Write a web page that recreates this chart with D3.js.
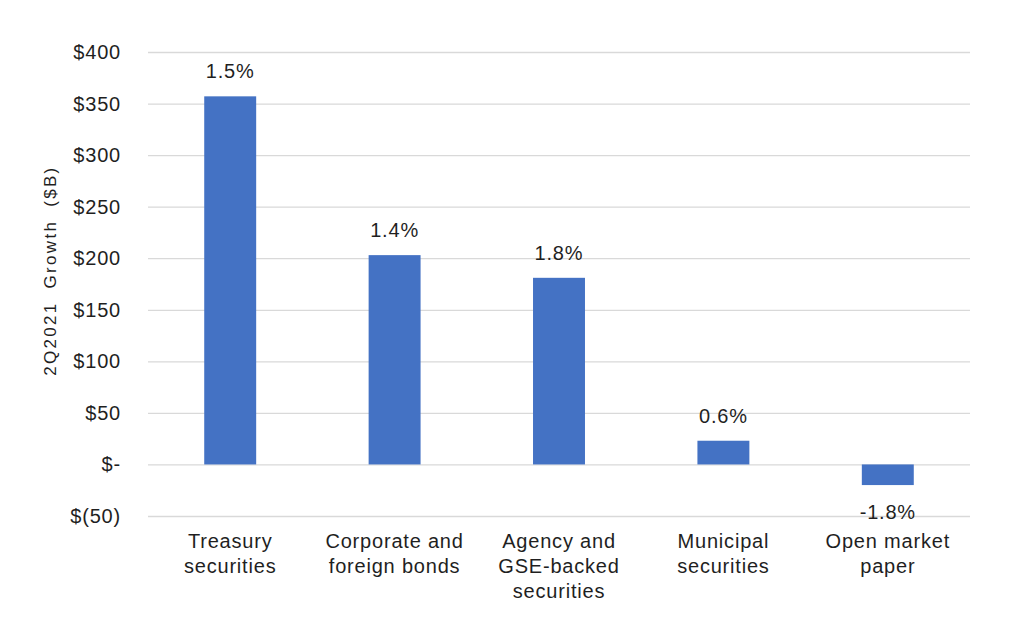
<!DOCTYPE html>
<html>
<head>
<meta charset="utf-8">
<script src="https://cdn.jsdelivr.net/npm/d3@7/dist/d3.min.js"></script>
<style>
  body { margin: 0; background: #fff; }
  text { font-family: "Liberation Sans", Arial, sans-serif; fill: #1f1f1f; }
  .grid line { stroke: #d9d9d9; stroke-width: 1.3; }
  .grid path { display: none; }
</style>
</head>
<body>
<div id="bar-chart"></div>
<script>
var categories = [
  ["Treasury", "securities"],
  ["Corporate and", "foreign bonds"],
  ["Agency and", "GSE-backed", "securities"],
  ["Municipal", "securities"],
  ["Open market", "paper"]
];
var values = [357, 203, 181, 23, -20];
var growthLabels = ["1.5%", "1.4%", "1.8%", "0.6%", "-1.8%"];
var tickValues = [-50, 0, 50, 100, 150, 200, 250, 300, 350, 400];

var fmtDollar = function(d) {
  if (d === 0) return "$-";
  if (d < 0) return "$(" + Math.abs(d) + ")";
  return "$" + d;
};

var renderBarChart = function() {
  var width = 1024;
  var height = 636;
  var margins = { top: 52, right: 54, bottom: 120, left: 148 };

  var chartWidth = width - margins.left - margins.right;
  var chartHeight = height - margins.top - margins.bottom; // 464 -> -50..400

  var svg = d3.select("#bar-chart")
    .append("svg")
    .attr("width", width)
    .attr("height", height);

  var chartElement = svg.append("g")
    .attr("transform", `translate(${margins.left},${margins.top})`);

  var xScale = d3.scaleBand()
    .domain(d3.range(values.length))
    .range([0, chartWidth])
    .paddingInner(0.684)
    .paddingOuter(0.342);

  var yScale = d3.scaleLinear()
    .domain([-50, 400])
    .range([chartHeight, 0]);

  // grid
  chartElement.append("g")
    .attr("class", "grid")
    .call(d3.axisLeft(yScale)
      .tickValues(tickValues)
      .tickSize(-chartWidth)
      .tickFormat(""));

  // y tick labels
  chartElement.append("g")
    .selectAll("text")
    .data(tickValues)
    .enter()
    .append("text")
    .attr("x", -27)
    .attr("y", d => yScale(d))
    .attr("dy", "0.35em")
    .attr("text-anchor", "end")
    .style("font-size", "20px")
    .style("letter-spacing", "0.8px")
    .text(fmtDollar);

  // y axis title
  svg.append("text")
    .attr("transform", `translate(56,${margins.top + yScale(188)}) rotate(-90)`)
    .attr("text-anchor", "middle")
    .style("font-size", "17px")
    .style("letter-spacing", "2.3px")
    .style("word-spacing", "6px")
    .text("2Q2021 Growth ($B)");

  // bars
  chartElement.append("g")
    .selectAll("rect")
    .data(values)
    .enter()
    .append("rect")
    .attr("x", (d, i) => xScale(i))
    .attr("width", xScale.bandwidth())
    .attr("y", d => yScale(Math.max(0, d)))
    .attr("height", d => Math.abs(yScale(d) - yScale(0)))
    .attr("fill", "#4472c4");

  // value labels
  chartElement.append("g")
    .selectAll("text")
    .data(values)
    .enter()
    .append("text")
    .attr("x", (d, i) => xScale(i) + xScale.bandwidth() / 2)
    .attr("y", d => d >= 0 ? yScale(d) - 18 : yScale(d) + 34)
    .attr("text-anchor", "middle")
    .style("font-size", "20px")
    .style("letter-spacing", "0.8px")
    .text((d, i) => growthLabels[i]);

  // category labels
  var catGroup = chartElement.append("g")
    .selectAll("text")
    .data(categories)
    .enter()
    .append("text")
    .attr("x", (d, i) => xScale(i) + xScale.bandwidth() / 2)
    .attr("y", yScale(-50) + 32)
    .attr("text-anchor", "middle")
    .style("font-size", "20px")
    .style("letter-spacing", "0.8px");

  catGroup.selectAll("tspan")
    .data(d => d)
    .enter()
    .append("tspan")
    .attr("x", function() { return d3.select(this.parentNode).attr("x"); })
    .attr("dy", (d, i) => i === 0 ? 0 : 25)
    .text(d => d);
};

renderBarChart();
</script>
</body>
</html>
